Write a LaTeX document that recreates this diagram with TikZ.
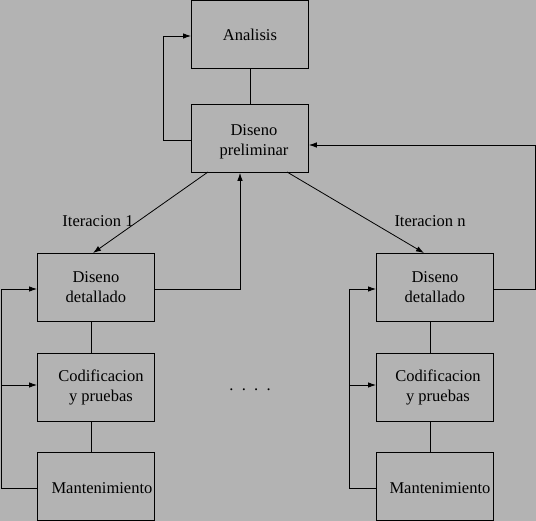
\documentclass[tikz,border=0pt]{standalone}
\usepackage{fontspec}
\setmainfont{Liberation Serif}
\usetikzlibrary{arrows.meta}
\definecolor{bg}{RGB}{179,179,179}
\tikzset{
  box/.style={draw, line width=0.9pt, minimum width=117pt, minimum height=68pt, inner sep=0pt, anchor=north west, align=center},
  txt/.style={align=center, font=\fontsize{16.5}{20}\selectfont},
  con/.style={line width=0.8pt},
  arr/.style={con, -{Latex[length=8pt,width=5.5pt]}},
  lbl/.style={font=\fontsize{16.5}{20}\selectfont}
}
\begin{document}
\begin{tikzpicture}[x=1pt,y=-1pt]
\fill[bg] (0,0) rectangle (536,521);
\useasboundingbox (0,0) rectangle (536,521);
% boxes
\node[box] (an) at (191,0.5) {};
\node[box] (dp) at (191,104) {};
\node[box] (dd1) at (37,253) {};
\node[box] (cp1) at (37,353) {};
\node[box] (mt1) at (37,452) {};
\node[box] (dd2) at (376,253) {};
\node[box] (cp2) at (376,353) {};
\node[box] (mt2) at (376,452) {};
% box texts
\node[txt] (tan) at (an.center) {Analisis};
\node[txt] (tdp) at ([xshift=4pt,yshift=-3pt]dp.center) {Diseno\\preliminar};
\node[txt] (tdd1) at (dd1.center) {Diseno\\detallado};
\node[txt] (tcp1) at ([xshift=5pt]cp1.center) {Codificacion\\y pruebas};
\node[txt] (tmt1) at ([xshift=6pt,yshift=-2pt]mt1.center) {Mantenimiento};
\node[txt] (tdd2) at (dd2.center) {Diseno\\detallado};
\node[txt] (tcp2) at ([xshift=3pt]cp2.center) {Codificacion\\y pruebas};
\node[txt] (tmt2) at ([xshift=5pt,yshift=-2pt]mt2.center) {Mantenimiento};
% labels
\node[lbl] (it1) at (98,221) {Iteracion 1};
\node[lbl] (itn) at (430,221) {Iteracion n};
\node[lbl] (dots) at (250,390) {.\ \ .\ \ .\ \ .};
% top connectors
\draw[con] (an.south) -- (dp.north);
\coordinate (l1) at (163,140);
\coordinate (l2) at (163,36);
\draw[arr] (dp.west |- l1) -- (l1) -- (l2) -- (an.west |- l2);
% preliminar to detallado
\coordinate (s1) at (208,172);
\coordinate (e1) at (93,253);
\draw[arr] (s1) -- (e1);
\coordinate (s2) at (287,172);
\coordinate (e2) at (424,253);
\draw[arr] (s2) -- (e2);
% return from left detallado
\coordinate (r1) at (240,289);
\draw[arr] (dd1.east |- r1) -- (r1) -- (r1 |- dp.south);
% return from right detallado
\coordinate (r2) at (535,289);
\coordinate (r3) at (535,145);
\draw[arr] (dd2.east |- r2) -- (r2) -- (r3) -- (dp.east |- r3);
% column links
\draw[con] (dd1.south -| 91,0) -- (cp1.north -| 91,0);
\draw[con] (cp1.south -| 91,0) -- (mt1.north -| 91,0);
\draw[con] (dd2.south -| 430,0) -- (cp2.north -| 430,0);
\draw[con] (cp2.south -| 430,0) -- (mt2.north -| 430,0);
% left feedback
\coordinate (f1) at (1,488);
\coordinate (f2) at (1,289);
\coordinate (f3) at (1,385);
\draw[con] (mt1.west |- f1) -- (f1) -- (f2);
\draw[arr] (f2) -- (dd1.west |- f2);
\draw[arr] (f3) -- (cp1.west |- f3);
% right feedback
\coordinate (g1) at (349,488);
\coordinate (g2) at (349,289);
\coordinate (g3) at (349,385);
\draw[con] (mt2.west |- g1) -- (g1) -- (g2);
\draw[arr] (g2) -- (dd2.west |- g2);
\draw[arr] (g3) -- (cp2.west |- g3);
\end{tikzpicture}
\end{document}
